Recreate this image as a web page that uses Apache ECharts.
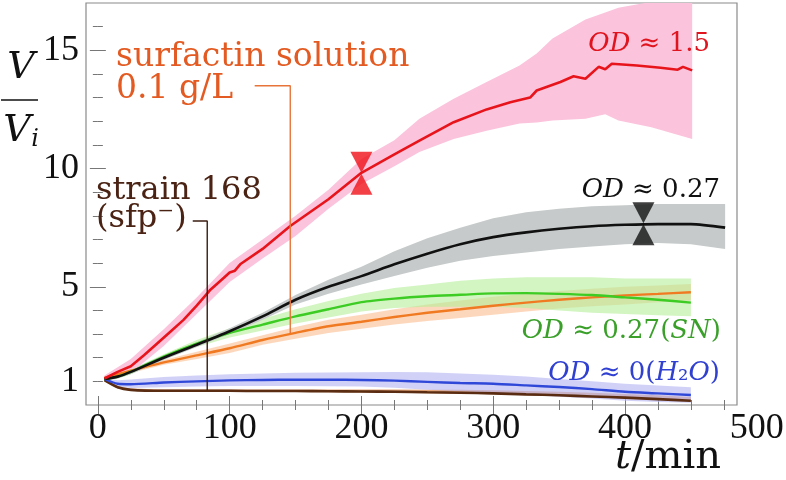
<!DOCTYPE html>
<html><head><meta charset="utf-8">
<script src="https://cdn.jsdelivr.net/npm/echarts@6/dist/echarts.min.js"></script>
<style>html,body{margin:0;padding:0;background:#fff}#c{width:786px;height:480px}</style>
</head><body><div id="c"></div>
<script>
// ---------- axis ticks / labels ----------
const xMajor = [0, 100, 200, 300, 400];
const xMinor = [0, 25, 50, 75, 100, 125, 150, 175, 200, 225, 250, 275, 300, 325, 350, 375, 400, 425, 450, 475];
const xExtraLabel = 500;
const yLabels = [1, 5, 10, 15];
const yMajor = [5, 10, 15];
const yMinor = [1, 2, 3, 4, 5, 6, 7, 8, 9, 10, 11, 12, 13, 14, 15, 16];

// ---------- common time grid (min) ----------
const tGrid = [5, 15, 25, 50, 75, 100, 125, 150, 175, 200, 225, 250, 275, 300, 325, 350, 375, 400, 425, 450];

// OD ~ 1.5 (red)
const tRed = [5, 15, 25, 35, 45, 55, 65, 75, 85, 95, 100, 104, 108, 125, 146, 175, 200, 225, 244, 270, 295, 313, 328, 333, 351, 361, 370, 380, 385, 390, 409, 427, 440, 444, 451];
const redV = [1.12, 1.4, 1.64, 2.1, 2.6, 3.1, 3.6, 4.2, 4.85, 5.35, 5.6, 5.68, 5.95, 6.6, 7.57, 8.7, 9.82, 10.6, 11.18, 11.96, 12.5, 12.8, 13.0, 13.3, 13.66, 13.9, 13.8, 14.3, 14.2, 14.43, 14.36, 14.26, 14.18, 14.3, 14.15];
const tRedBand = [5, 25, 50, 75, 100, 125, 150, 175, 200, 225, 244, 270, 295, 320, 333, 345, 370, 385, 395, 420, 451];
const redUp = [1.25, 1.95, 3.2, 4.55, 6.0, 7.0, 8.0, 9.1, 10.4, 11.2, 12.1, 12.95, 13.66, 14.36, 14.86, 15.5, 16.3, 16.6, 16.8, 17.05, 17.3];
const redLo = [1.05, 1.35, 2.5, 3.85, 5.2, 6.2, 7.15, 8.3, 9.35, 10.1, 10.7, 11.25, 11.6, 11.9, 11.95, 12.03, 12.1, 12.3, 12.03, 11.75, 11.25];

// OD ~ 0.27 (black)
const tBlack = [5, 15, 25, 50, 75, 100, 125, 150, 175, 200, 225, 250, 275, 300, 325, 350, 375, 400, 425, 450, 476];
const blackV = [1.1, 1.2, 1.4, 2.0, 2.55, 3.12, 3.75, 4.45, 5.0, 5.45, 5.95, 6.4, 6.8, 7.1, 7.3, 7.45, 7.56, 7.62, 7.65, 7.65, 7.5];
const blackUp = [1.15, 1.28, 1.5, 2.1, 2.65, 3.25, 3.9, 4.65, 5.3, 5.85, 6.5, 7.05, 7.5, 7.9, 8.15, 8.3, 8.4, 8.45, 8.5, 8.5, 8.5];
const blackLo = [1.05, 1.12, 1.3, 1.9, 2.45, 3.0, 3.6, 4.25, 4.7, 5.1, 5.45, 5.8, 6.1, 6.3, 6.45, 6.6, 6.7, 6.8, 6.85, 6.8, 6.6];

// OD ~ 0.27 (SN) (green)
const greenV = [1.1, 1.2, 1.4, 2.05, 2.6, 3.05, 3.4, 3.75, 4.05, 4.35, 4.5, 4.6, 4.66, 4.72, 4.73, 4.7, 4.65, 4.55, 4.45, 4.33];
const greenUp = [1.15, 1.28, 1.5, 2.15, 2.75, 3.25, 3.65, 4.05, 4.4, 4.7, 4.95, 5.1, 5.25, 5.35, 5.4, 5.4, 5.4, 5.35, 5.35, 5.35];
const greenLo = [1.05, 1.12, 1.3, 1.95, 2.45, 2.85, 3.15, 3.45, 3.7, 3.95, 4.1, 4.15, 4.15, 4.15, 4.1, 4.0, 3.9, 3.85, 3.8, 3.75];

// surfactin solution 0.1 g/L (orange)
const orangeV = [1.15, 1.3, 1.45, 1.8, 2.1, 2.4, 2.75, 3.05, 3.33, 3.52, 3.72, 3.9, 4.05, 4.2, 4.33, 4.45, 4.55, 4.63, 4.7, 4.77];
const orangeUp = [1.2, 1.37, 1.55, 1.9, 2.25, 2.6, 2.95, 3.3, 3.6, 3.82, 4.05, 4.25, 4.42, 4.58, 4.7, 4.82, 4.92, 5.0, 5.05, 5.12];
const orangeLo = [1.1, 1.23, 1.35, 1.7, 1.95, 2.2, 2.55, 2.8, 3.05, 3.22, 3.4, 3.55, 3.68, 3.82, 3.95, 4.08, 4.18, 4.25, 4.35, 4.42];

// OD ~ 0 (H2O) (blue)
const blueV = [1.1, 0.9, 0.88, 0.95, 1.0, 1.04, 1.06, 1.07, 1.07, 1.06, 1.03, 0.98, 0.93, 0.9, 0.83, 0.76, 0.67, 0.56, 0.49, 0.42];
const blueUp = [1.15, 1.05, 1.08, 1.18, 1.25, 1.3, 1.33, 1.36, 1.37, 1.38, 1.4, 1.38, 1.33, 1.28, 1.2, 1.1, 1.0, 0.9, 0.82, 0.75];
const blueLo = [1.05, 0.78, 0.72, 0.75, 0.78, 0.8, 0.8, 0.8, 0.79, 0.78, 0.73, 0.65, 0.58, 0.52, 0.43, 0.35, 0.27, 0.18, 0.13, 0.1];

// strain 168 (sfp-) (brown)
const brownV = [1.05, 0.75, 0.64, 0.6, 0.6, 0.6, 0.59, 0.59, 0.58, 0.57, 0.56, 0.54, 0.52, 0.49, 0.45, 0.41, 0.36, 0.31, 0.25, 0.18];
const brownUp = [1.1, 0.8, 0.7, 0.66, 0.66, 0.66, 0.66, 0.66, 0.66, 0.66, 0.66, 0.65, 0.64, 0.62, 0.59, 0.56, 0.52, 0.47, 0.41, 0.34];
const brownLo = [1.0, 0.7, 0.6, 0.56, 0.56, 0.56, 0.55, 0.55, 0.54, 0.53, 0.52, 0.5, 0.48, 0.45, 0.41, 0.37, 0.32, 0.27, 0.21, 0.14];

// leader lines & bow-tie markers (data coordinates)
const surfLeaderT = [119, 146, 146];
const surfLeaderV = [13.5, 13.5, 3.05];
const strainLeaderT = [72, 83, 83];
const strainLeaderV = [7.78, 7.78, 0.62];
const redMark = [200, 9.8];
const blackMark = [414, 7.67];

const FONT = 'DejaVu Serif';
const TICKFONT = 'Liberation Serif';
const pairs = (t, v) => t.map((x, i) => [x, v[i]]);

function band(t, up, lo, color, opacity) {
  return {
    type: 'custom', xAxisIndex: 0, yAxisIndex: 0, silent: true, z: 1,
    data: [[t[0], lo[0]]],
    renderItem(params, api) {
      const pts = [];
      for (let i = 0; i < t.length; i++) pts.push(api.coord([t[i], up[i]]));
      for (let i = t.length - 1; i >= 0; i--) pts.push(api.coord([t[i], lo[i]]));
      const cs = params.coordSys;
      return {
        type: 'polygon', shape: { points: pts },
        style: { fill: color, opacity: opacity },
        clipPath: { type: 'rect', shape: { x: cs.x, y: cs.y, width: cs.width, height: cs.height } }
      };
    }
  };
}
function curve(data, color, w, smooth) {
  return {
    type: 'line', xAxisIndex: 0, yAxisIndex: 0, data: data, symbol: 'none', silent: true, z: 3,
    smooth: smooth ? 0.25 : false,
    lineStyle: { color: color, width: w }
  };
}
function bowtie(pt, color) {
  return [
    { type: 'scatter', xAxisIndex: 0, yAxisIndex: 0, data: [pt], symbol: 'triangle', symbolSize: [22, 21],
      symbolRotate: 180, symbolOffset: [0, -11], itemStyle: { color: color }, silent: true, z: 5 },
    { type: 'scatter', xAxisIndex: 0, yAxisIndex: 0, data: [pt], symbol: 'triangle', symbolSize: [22, 21],
      symbolOffset: [0, 11], itemStyle: { color: color }, silent: true, z: 5 }
  ];
}

const tickColor = '#777';
function xAx(pos, ticks, len, labels) {
  return {
    type: 'value', position: pos, min: -9, max: 485, gridIndex: 0,
    axisLine: { show: false }, splitLine: { show: false },
    axisTick: { show: true, inside: true, length: len, customValues: ticks, lineStyle: { color: tickColor, width: 1 } },
    axisLabel: labels ? { show: true, customValues: labels, fontFamily: TICKFONT, fontSize: 36, color: '#111', margin: 6 } : { show: false }
  };
}
function yAx(pos, ticks, len, labels) {
  return {
    type: 'value', position: pos, min: 0, max: 17, gridIndex: 0,
    axisLine: { show: false }, splitLine: { show: false },
    axisTick: { show: true, inside: true, length: len, customValues: ticks, lineStyle: { color: tickColor, width: 1 } },
    axisLabel: labels ? { show: true, customValues: labels, fontFamily: TICKFONT, fontSize: 36, color: '#111', margin: 7 } : { show: false }
  };
}

const txt = (x, y, text, size, color, align, extra) => ({
  type: 'text', x: x, y: y, silent: true, z: 100,
  style: Object.assign({ text: text, fontFamily: FONT, fontSize: size, fill: color, align: align || 'left', verticalAlign: 'middle' }, extra || {})
});
const rich = (x, y, text, size, color) => ({
  type: 'text', x: x, y: y, silent: true, z: 100,
  style: { text: text, align: 'right', verticalAlign: 'middle', fontFamily: FONT, fontSize: size, fill: color,
    rich: { i: { fontStyle: 'italic', fontFamily: FONT, fontSize: size, fill: color },
            r: { fontFamily: FONT, fontSize: size, fill: color } } }
});

const chart = echarts.init(document.getElementById('c'), null, { renderer: 'canvas' });
const option = {
  animation: false,
  backgroundColor: '#fff',
  grid: { left: 86, right: 49, top: 3, bottom: 75, show: true, borderColor: '#8a8a8a', borderWidth: 1.2, backgroundColor: 'transparent' },
  xAxis: [xAx('bottom', xMinor, 5, null), xAx('bottom', xMajor, 9, xMajor), xAx('top', xMinor, 5, null), xAx('top', xMajor, 9, null)],
  yAxis: [yAx('left', yMinor, 5, null), yAx('left', yMajor, 8, yLabels), yAx('right', yMinor, 5, null), yAx('right', yMajor, 8, null)],
  series: [
    band(tGrid, brownUp, brownLo, '#d98a4e', 0.75),
    band(tGrid, blueUp, blueLo, '#b9b9f2', 0.65),
    band(tGrid, orangeUp, orangeLo, '#fcc9a6', 0.75),
    band(tGrid, greenUp, greenLo, '#b4ef98', 0.6),
    band(tBlack, blackUp, blackLo, '#c6caca', 1),
    band(tRedBand, redUp, redLo, '#fbc3dc', 1),
    curve(pairs(tGrid, brownV), '#5a2c12', 2.6, true),
    curve(pairs(tGrid, blueV), '#3048d8', 2.4, true),
    curve(pairs(tGrid, orangeV), '#f07a22', 2.4, true),
    curve(pairs(tGrid, greenV), '#3ccc24', 2.4, true),
    curve(pairs(tBlack, blackV), '#111111', 2.6, true),
    curve(pairs(tRed, redV), '#e8141c', 2.6, false),
    { type: 'line', xAxisIndex: 0, yAxisIndex: 0, data: pairs(surfLeaderT, surfLeaderV), symbol: 'none', silent: true, z: 4,
      lineStyle: { color: '#e8743a', width: 1.4 } },
    { type: 'line', xAxisIndex: 0, yAxisIndex: 0, data: pairs(strainLeaderT, strainLeaderV), symbol: 'none', silent: true, z: 4,
      lineStyle: { color: '#3a1c10', width: 1.4 } },
    ...bowtie(redMark, '#f01018'),
    ...bowtie(blackMark, '#111111')
  ],
  graphic: [
    // y-axis name V / V_i
    txt(21, 68, 'V', 38, '#111', 'center', { fontStyle: 'italic' }),
    { type: 'line', silent: true, z: 100, shape: { x1: 1, y1: 100, x2: 38, y2: 100 }, style: { stroke: '#111', lineWidth: 1.6 } },
    txt(17, 131, 'V', 38, '#111', 'center', { fontStyle: 'italic' }),
    txt(35, 140, 'i', 24, '#111', 'center', { fontStyle: 'italic' }),
    // x-axis name t/min
    rich(721, 458, '{i|t}{r|/min}', 40, '#111'),
    // annotations
    txt(116, 57, 'surfactin solution', 33, '#e35b22'),
    txt(116, 89, '0.1 g/L', 33, '#e35b22'),
    txt(96, 191, 'strain 168', 32, '#4a2314'),
    txt(96, 219, '(sfp\u207B)', 32, '#4a2314'),
    rich(710, 44, '{i|OD}{r| \u2248 1.5}', 26, '#e0141e'),
    rich(720, 190, '{i|OD}{r| \u2248 0.27}', 26, '#111'),
    rich(721, 331, '{i|OD}{r| \u2248 0.27(}{i|SN}{r|)}', 26, '#3aa02a'),
    rich(720, 373, '{i|OD}{r| \u2248 0(}{i|H}{r|\u2082}{i|O}{r|)}', 26, '#3040d0')
  ]
};
chart.setOption(option);

// extra "500" tick label placed through the x scale (beyond the plotted range)
const px500 = chart.convertToPixel({ xAxisIndex: 0 }, xExtraLabel);
const gridBottom = chart.convertToPixel({ yAxisIndex: 0 }, 0);
chart.setOption({
  graphic: [{ id: 'lab500', type: 'text', x: px500, y: gridBottom + 6, silent: true, z: 100,
    style: { text: String(xExtraLabel), fontFamily: TICKFONT, fontSize: 36, fill: '#111', align: 'center', verticalAlign: 'top' } }]
});
</script>
</body></html>
